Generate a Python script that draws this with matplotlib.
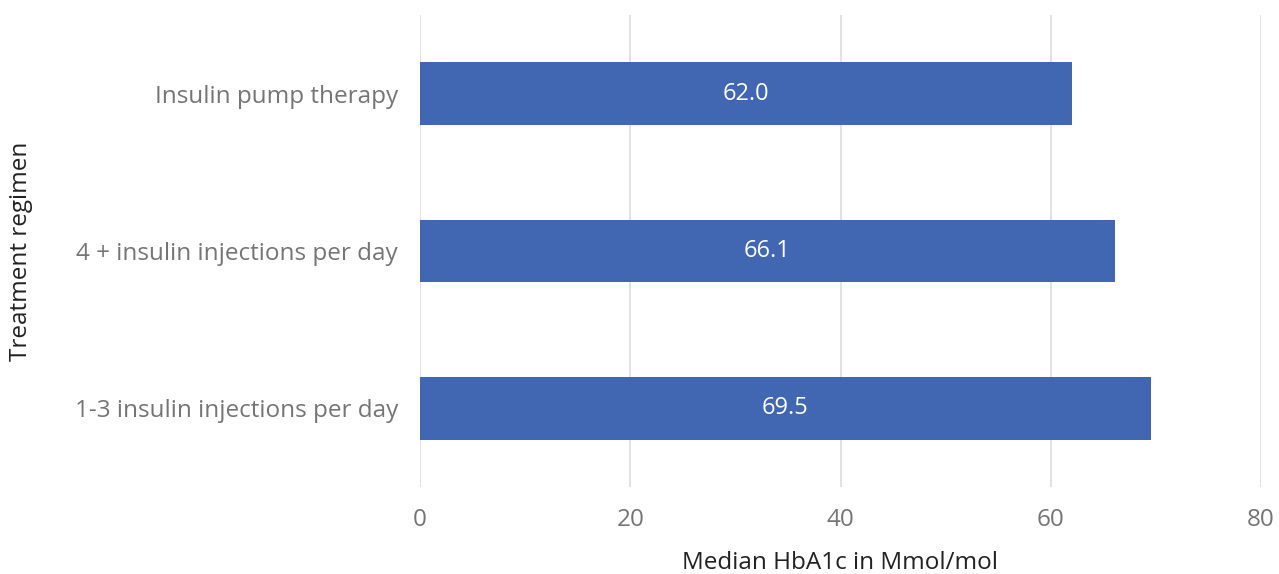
import matplotlib
matplotlib.use('Agg')
import matplotlib.pyplot as plt

# data
regimens = ['1-3 insulin injections per day', '4 + insulin injections per day', 'Insulin pump therapy']
hba1c = [69.5, 66.1, 62.0]
x_ticks = [0, 20, 40, 60, 80]

plt.rcParams['font.family'] = ['Open Sans', 'DejaVu Sans']

fig = plt.figure(figsize=(12.79, 5.74), dpi=100)
ax = fig.add_axes([420 / 1279, 1 - 487 / 574, 841 / 1279, 472 / 574])

bars = ax.barh(range(len(regimens)), hba1c, height=0.4, color='#4267b2', zorder=2)
for bar, v in zip(bars, hba1c):
    ax.text(v / 2, bar.get_y() + bar.get_height() / 2, f'{v:.1f}',
            ha='center', va='center', color='white', fontsize=17)

ax.set_xlim(0, 80)
ax.set_ylim(-0.5, 2.5)
ax.set_xticks(x_ticks)
ax.set_yticks(range(len(regimens)))
ax.set_yticklabels(regimens)
ax.tick_params(axis='both', length=0, labelcolor='#757575', labelsize=17.5)
ax.tick_params(axis='y', pad=16)
ax.tick_params(axis='x', pad=15)

# grid
ax.grid(axis='x', color='#dddddd', linewidth=1.2, zorder=0)
for s in ax.spines.values():
    s.set_visible(False)

ax.set_xlabel('Median HbA1c in Mmol/mol', fontsize=17.5, color='#222222')
ax.set_ylabel('Treatment regimen', fontsize=17.5, color='#222222')
ax.xaxis.set_label_coords(0.5, -0.135)
ax.yaxis.set_label_coords(-0.46, 0.5)

fig.savefig('out.png', dpi=100)
